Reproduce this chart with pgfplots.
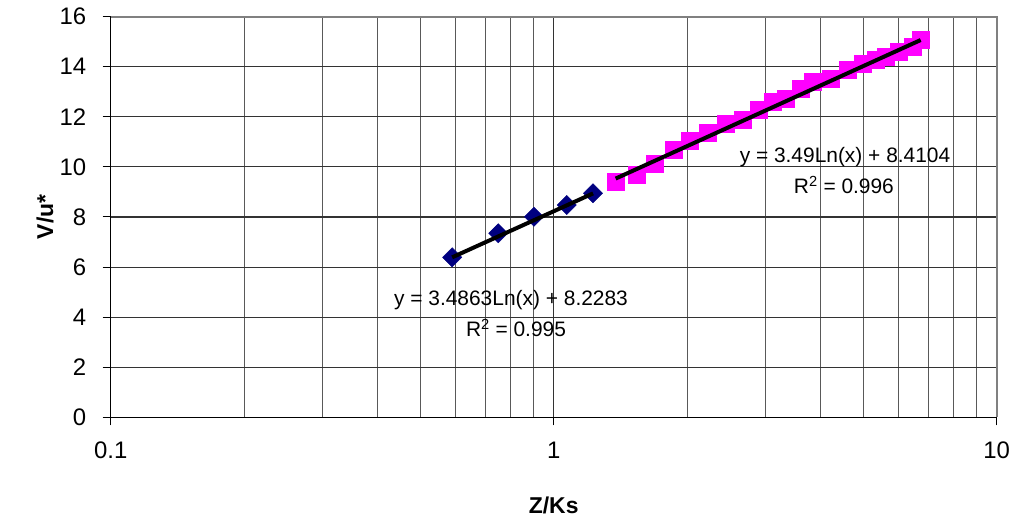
\documentclass[border=0pt]{standalone}
\usepackage{pgfplots}
\pgfplotsset{compat=1.18}
\usepackage{fontspec}
\setmainfont{Liberation Sans}
\definecolor{navyblue}{HTML}{000080}
\definecolor{mag}{HTML}{FF00FF}
\begin{document}
\begin{tikzpicture}
\path[use as bounding box] (-110.7bp,-102.7bp) rectangle (905.3bp,417.3bp);
\begin{semilogxaxis}[
 at={(0,0)}, anchor=south west,
 scale only axis, width=886bp, height=400.6bp,
 xmin=0.1, xmax=10, ymin=0, ymax=16,
 axis x line*=bottom, axis y line*=left,
 axis line style={black, line width=1.2bp},
 xtick={0.1,1,10}, xticklabels={0.1,1,10},
 ytick={0,2,...,16},
 tick align=outside, major tick length=8bp, minor tick length=0pt,
 tick style={black, line width=1bp},
 xmajorgrids, xminorgrids, ymajorgrids,
 major grid style={black!80, line width=1.1bp},
 minor grid style={black!65, line width=1.1bp},
 /pgf/number format/assume math mode=true,
 ticklabel style={font=\fontsize{24}{26}\selectfont},
 xticklabel style={yshift=-13bp},
 yticklabel style={xshift=-13bp},
 xlabel={Z/Ks}, ylabel={V/u*},
 label style={font=\bfseries\fontsize{23}{26}\selectfont},
 xlabel style={at={(axis description cs:0.5,-0.219)}, anchor=center},
 ylabel style={at={(axis description cs:-0.0742,0.5)}, anchor=center},
 clip=false, clip marker paths=true,
]
\addplot[only marks, mark=square*, mark size=6.8bp, mark options={rotate=45, fill=navyblue, draw=navyblue}] coordinates {
 (0.590,6.39) (0.750,7.35) (0.903,8.01) (1.070,8.48) (1.227,8.95)
};
\addplot[black, line width=4bp, no marks] coordinates {(0.590,6.389) (1.227,8.942)};
\addplot[only marks, mark=square*, mark size=8.5bp, mark options={fill=mag, draw=mag}] coordinates {
 (1.380,9.41) (1.539,9.68) (1.693,10.12) (1.869,10.67) (2.028,11.05)
 (2.222,11.37) (2.445,11.71) (2.675,11.87) (2.907,12.27) (3.115,12.60)
 (3.340,12.74) (3.611,13.14) (3.836,13.40) (4.220,13.54) (4.600,13.90)
 (4.973,14.14) (5.334,14.30) (5.616,14.40) (6.019,14.60) (6.450,14.80)
 (6.736,15.07)
};
\addplot[black, line width=4bp, no marks] coordinates {(1.380,9.534) (6.736,15.068)};
\draw[gray, line width=2bp] (rel axis cs:0,1) -- (rel axis cs:1,1) -- (rel axis cs:1,0);
\node[font=\fontsize{21}{23}\selectfont] at (axis cs:4.546,10.40) {y = 3.49Ln(x) + 8.4104};
\node[font=\fontsize{21}{23}\selectfont] at (axis cs:4.52,9.28) {R\textsuperscript{2} = 0.996};
\node[font=\fontsize{21}{23}\selectfont] at (axis cs:0.801,4.69) {y = 3.4863Ln(x) + 8.2283};
\node[font=\fontsize{21}{23}\selectfont] at (axis cs:0.822,3.57) {R\textsuperscript{2} = 0.995};
\end{semilogxaxis}
\end{tikzpicture}
\end{document}
